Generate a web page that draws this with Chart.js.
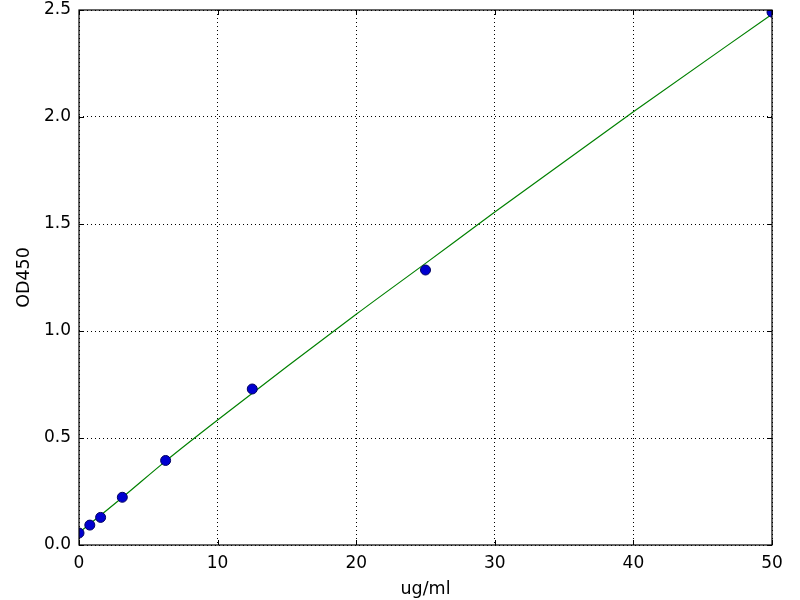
<!DOCTYPE html>
<html>
<head>
<meta charset="utf-8">
<script src="https://cdn.jsdelivr.net/npm/chart.js@4"></script>
<style>
html,body{margin:0;padding:0;background:#fff;}
#wrap{width:800px;height:600px;}
</style>
</head>
<body>
<div id="wrap"><canvas id="c" width="800" height="600"></canvas></div>
<script>
const concentrations = [0, 0.78, 1.56, 3.125, 6.25, 12.5, 25, 50];
const od450 = [0.056, 0.093, 0.129, 0.223, 0.395, 0.729, 1.285, 2.49];
const fitX = [0, 3.125, 6.25, 10, 20, 25, 30, 40, 50];
const fitY = [0.057, 0.222, 0.392, 0.584, 1.078, 1.316, 1.556, 2.025, 2.48];
const xTicks = [0, 10, 20, 30, 40, 50];
const yTicks = [0.0, 0.5, 1.0, 1.5, 2.0, 2.5];

const pointData = concentrations.map((x, i) => ({x: x, y: od450[i]}));
const fitData = fitX.map((x, i) => ({x: x, y: fitY[i]}));

const innerTicks = {
  id: 'innerTicks',
  afterDatasetsDraw(chart) {
    const ctx = chart.ctx, a = chart.chartArea;
    const xs = chart.scales.x, ys = chart.scales.y;
    ctx.save();
    ctx.strokeStyle = '#000';
    ctx.lineWidth = 1;
    ctx.beginPath();
    xTicks.forEach(v => {
      const p = Math.round(xs.getPixelForValue(v)) + 0.5;
      ctx.moveTo(p, a.bottom); ctx.lineTo(p, a.bottom - 5);
      ctx.moveTo(p, a.top); ctx.lineTo(p, a.top + 5);
    });
    yTicks.forEach(v => {
      const p = Math.round(ys.getPixelForValue(v)) + 0.5;
      ctx.moveTo(a.left, p); ctx.lineTo(a.left + 5, p);
      ctx.moveTo(a.right, p); ctx.lineTo(a.right - 5, p);
    });
    ctx.stroke();
    ctx.lineWidth = 1.2;
    ctx.strokeRect(a.left, a.top, a.right - a.left, a.bottom - a.top);
    ctx.restore();
  }
};

new Chart(document.getElementById('c'), {
  type: 'scatter',
  data: {
    datasets: [
      {
        type: 'line',
        data: fitData,
        borderColor: '#008000',
        borderWidth: 1.2,
        pointRadius: 0,
        fill: false,
        cubicInterpolationMode: 'monotone',
        order: 2
      },
      {
        data: pointData,
        backgroundColor: '#0000d0',
        borderColor: '#000060',
        borderWidth: 1,
        pointRadius: 5,
        order: 1
      }
    ]
  },
  plugins: [innerTicks],
  options: {
    responsive: false,
    animation: false,
    devicePixelRatio: 1,
    layout: { padding: { top: 10, right: 28, left: 0, bottom: 0 } },
    plugins: { legend: { display: false }, tooltip: { enabled: false } },
    scales: {
      x: {
        type: 'linear',
        min: 0, max: 50,
        afterBuildTicks: s => { s.ticks = xTicks.map(v => ({value: v})); },
        afterFit: s => { s.height = 55; s.paddingLeft = 0; s.paddingRight = 0; },
        ticks: { color: '#000', font: { family: 'DejaVu Sans', size: 17 }, padding: 8 },
        grid: { color: '#000', lineWidth: 1, tickLength: 0, drawTicks: false },
        border: { display: false, dash: [1, 3] },
        title: { display: true, text: 'ug/ml', color: '#000', font: { family: 'DejaVu Sans', size: 17.5 }, padding: { top: 0, bottom: 0 } }
      },
      y: {
        type: 'linear',
        min: 0, max: 2.5,
        afterBuildTicks: s => { s.ticks = yTicks.map(v => ({value: v})); },
        afterFit: s => { s.width = 79; s.paddingTop = 0; s.paddingBottom = 0; },
        ticks: { color: '#000', font: { family: 'DejaVu Sans', size: 17 }, padding: 8, callback: v => v.toFixed(1) },
        grid: { color: '#000', lineWidth: 1, drawTicks: false },
        border: { display: false, dash: [1, 3] },
        title: { display: true, text: 'OD450', color: '#000', font: { family: 'DejaVu Sans', size: 17.5 }, padding: { top: 14, bottom: 8 } }
      }
    }
  }
});
</script>
</body>
</html>
